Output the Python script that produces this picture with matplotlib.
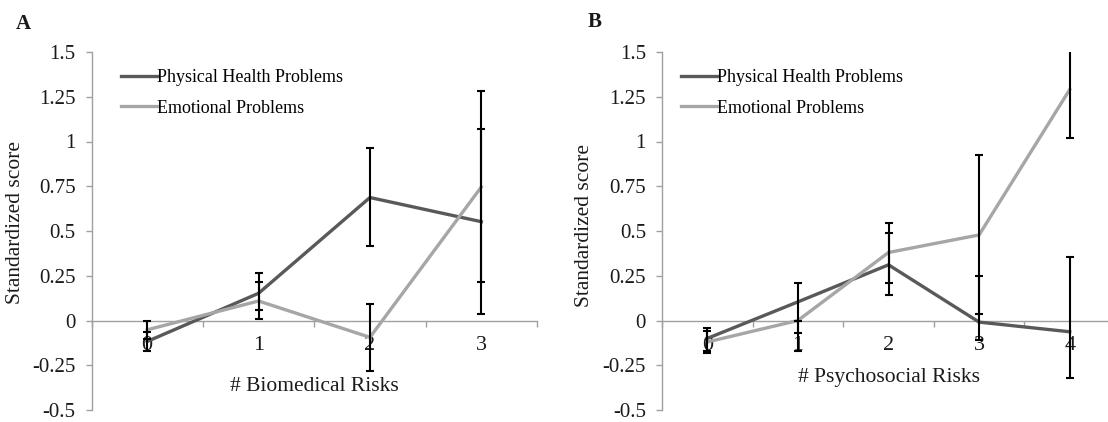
import numpy as np
import matplotlib
matplotlib.use("Agg")
import matplotlib.pyplot as plt

plt.rcParams['font.family'] = ['Liberation Serif', 'DejaVu Serif']

# panel A: biomedical risks
cats_a = ['0', '1', '2', '3']
phys_a = [-0.117, 0.152, 0.687, 0.552]
phys_a_low = [-0.172, 0.059, 0.417, 0.037]
phys_a_high = [-0.062, 0.263, 0.963, 1.07]
emo_a = [-0.052, 0.109, -0.094, 0.746]
emo_a_low = [-0.104, 0.009, -0.28, 0.213]
emo_a_high = [0.0, 0.217, 0.092, 1.283]

# panel B: psychosocial risks
cats_b = ['0', '1', '2', '3', '4']
phys_b = [-0.10, 0.104, 0.311, -0.009, -0.063]
phys_b_low = [-0.171, -0.069, 0.141, -0.109, -0.322]
phys_b_high = [-0.041, 0.207, 0.487, 0.246, 0.354]
emo_b = [-0.12, 0.0, 0.38, 0.478, 1.29]
emo_b_low = [-0.184, -0.171, 0.209, 0.037, 1.02]
emo_b_high = [-0.056, 0.0, 0.543, 0.922, 1.518]

yticks = [-0.5, -0.25, 0, 0.25, 0.5, 0.75, 1, 1.25, 1.5]
ytick_labels = ['-0.5', '-0.25', '0', '0.25', '0.5', '0.75', '1', '1.25', '1.5']

series_names = ['Physical Health Problems', 'Emotional Problems']
dark = '#595959'
light = '#a6a6a6'
axis_col = '#a0a0a0'
txt = '#1a1a1a'

W, H = 1108, 422
fig = plt.figure(figsize=(W / 100, H / 100), dpi=100)


def panel(rect, cats, phys, plo, phi, emo, elo, ehi, xlabel, letter, letter_xy, leg_xy, xlab_y, ylab_pos):
    ax = fig.add_axes(rect)
    x = np.arange(len(cats))
    ax.plot(x, phys, color=dark, lw=2.4, label=series_names[0], zorder=3,
            solid_joinstyle='miter')
    ax.plot(x, emo, color=light, lw=2.4, label=series_names[1], zorder=3,
            solid_joinstyle='miter')
    for m, lo, hi in [(phys, plo, phi), (emo, elo, ehi)]:
        m = np.array(m)
        yerr = [m - np.array(lo), np.array(hi) - m]
        ax.errorbar(x, m, yerr=yerr, fmt='none', ecolor='black', elinewidth=1.5,
                    capsize=3.2, capthick=1.5, zorder=4)

    ax.set_xlim(-0.5, len(cats) - 0.5)
    ax.set_ylim(-0.5, 1.5)
    ax.set_yticks(yticks)
    ax.set_yticklabels(ytick_labels)
    ax.set_xticks(x)
    ax.set_xticklabels(cats)
    ax.set_xticks(np.arange(len(cats) + 1) - 0.5, minor=True)

    for s in ['top', 'right']:
        ax.spines[s].set_visible(False)
    ax.spines['bottom'].set_position(('data', 0))
    for s in ['left', 'bottom']:
        ax.spines[s].set_color(axis_col)
        ax.spines[s].set_linewidth(1.0)

    ax.tick_params(axis='y', direction='out', length=4.5, width=1.0, color=axis_col,
                   labelsize=15, labelcolor=txt, pad=7)
    ax.tick_params(axis='x', which='major', length=0, labelsize=16, labelcolor=txt, pad=11)
    ax.tick_params(axis='x', which='minor', direction='out', length=4, width=1.0, color=axis_col)

    ax.set_xlabel(xlabel, fontsize=15.5, color=txt)
    ax.xaxis.label.set_va('center')
    ax.xaxis.set_label_coords(0.5, xlab_y)
    ax.set_ylabel('Standardized score', fontsize=15.5, color=txt)
    ax.yaxis.label.set_va('center')
    ax.yaxis.set_label_coords(*ylab_pos)

    fig.text(letter_xy[0] / W, 1 - letter_xy[1] / H, letter, fontsize=15, fontweight='bold',
             ha='center', va='center', color=txt)

    ax.legend(loc='upper left', bbox_to_anchor=(leg_xy[0] / W, 1 - leg_xy[1] / H),
              bbox_transform=fig.transFigure, frameon=False, fontsize=13,
              handlelength=2.0, handletextpad=0.0, labelspacing=0.75,
              borderpad=0, borderaxespad=0)
    return ax


panel([91.5 / W, 12 / H, 445.5 / W, 358 / H], cats_a, phys_a, phys_a_low, phys_a_high,
      emo_a, emo_a_low, emo_a_high, '# Biomedical Risks', 'A', (23, 24), (121, 69),
      0.066, (-0.17, 0.525))
panel([662 / W, 12 / H, 453 / W, 358 / H], cats_b, phys_b, phys_b_low, phys_b_high,
      emo_b, emo_b_low, emo_b_high, '# Psychosocial Risks', 'B', (595, 22), (681, 69),
      0.092, (-0.17, 0.516))

fig.savefig('out.png', dpi=100)
